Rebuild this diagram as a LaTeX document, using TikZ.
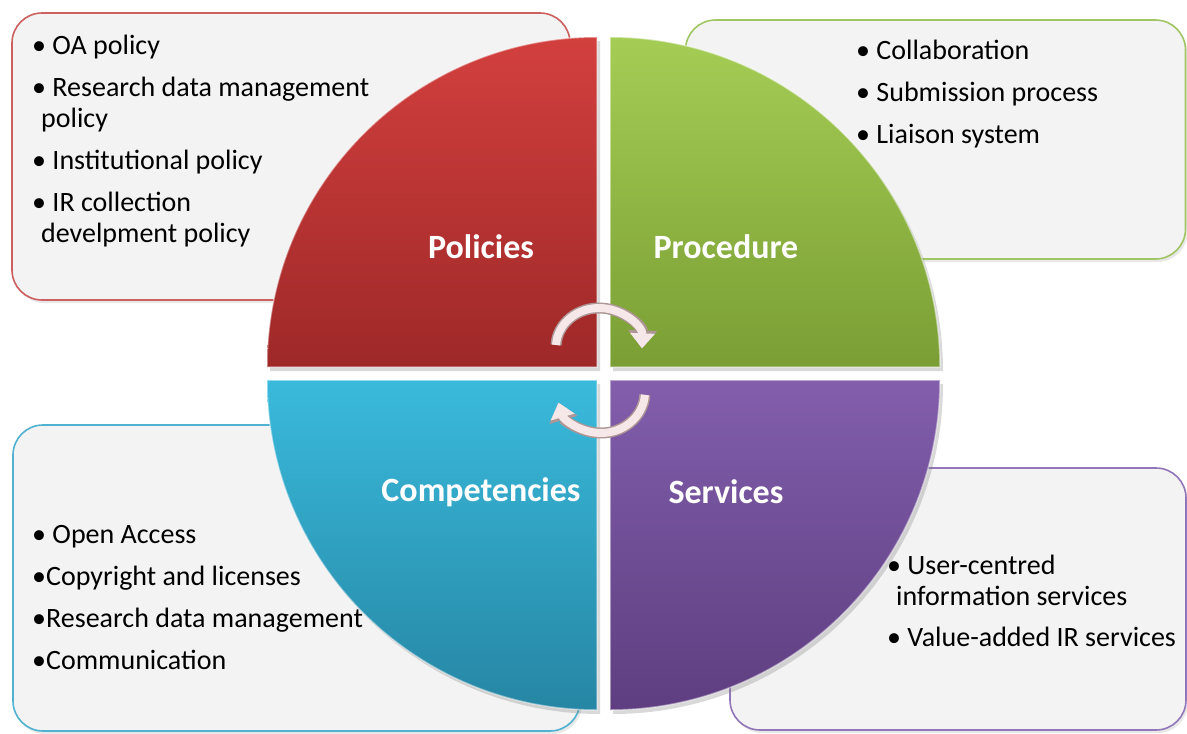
\documentclass[tikz,border=0pt]{standalone}
\usepackage{fontspec}
\setmainfont{Carlito}
\usetikzlibrary{arrows.meta,shadows}

\definecolor{boxgray}{RGB}{243,243,243}
\definecolor{redtop}{RGB}{210,64,62}
\definecolor{redbot}{RGB}{158,40,40}
\definecolor{redline}{RGB}{205,95,95}
\definecolor{greentop}{RGB}{165,205,85}
\definecolor{greenbot}{RGB}{122,158,52}
\definecolor{greenline}{RGB}{160,198,100}
\definecolor{bluetop}{RGB}{58,186,220}
\definecolor{bluebot}{RGB}{38,134,164}
\definecolor{blueline}{RGB}{80,178,208}
\definecolor{purpletop}{RGB}{130,94,172}
\definecolor{purplebot}{RGB}{94,62,128}
\definecolor{purpleline}{RGB}{145,118,185}
\definecolor{arrowpink}{RGB}{246,232,232}
\definecolor{arrowedge}{RGB}{175,150,150}

\begin{document}
\begin{tikzpicture}[x=1pt,y=1pt,
	listbox/.style = {draw, line width=1.6pt, fill=boxgray, rounded corners=30pt,
		drop shadow={opacity=0.18,shadow xshift=2pt,shadow yshift=-3pt}},
	quad/.style = {draw=white, draw opacity=0.45, line width=1.5pt,
		drop shadow={opacity=0.3,shadow xshift=3pt,shadow yshift=-4pt}},
	lbl/.style = {text=white, font=\fontsize{34}{40}\selectfont\bfseries},
	items/.style = {anchor=north west, inner sep=0pt, align=left, font=\fontsize{28}{31}\selectfont},
	cycbase/.style = {line width=11pt, draw=arrowedge, -{Triangle[length=18pt,width=28pt]}},
	cyc/.style = {line width=8pt, draw=arrowpink, -{Triangle[length=15pt,width=24pt]}}]
	\useasboundingbox (0,0) rectangle (1187,-734);

	\node[listbox, draw=redline, minimum width=558pt, minimum height=287pt] (polbox) at (291,-156.5) {};
	\node[listbox, draw=greenline, minimum width=500pt, minimum height=239pt] (probox) at (935.5,-139.5) {};
	\node[listbox, draw=blueline, minimum width=567pt, minimum height=306pt] (combox) at (296.5,-578) {};
	\node[listbox, draw=purpleline, minimum width=456pt, minimum height=262pt] (serbox) at (958,-599) {};

	\path[quad, top color=redtop, bottom color=redbot]
		(597,-367) -- ++(-330,0) arc[start angle=180, end angle=90, radius=330] -- cycle;
	\path[quad, top color=greentop, bottom color=greenbot]
		(610,-367) -- ++(0,330) arc[start angle=90, end angle=0, radius=330] -- cycle;
	\path[quad, top color=bluetop, bottom color=bluebot]
		(597,-380) -- ++(0,-330) arc[start angle=270, end angle=180, radius=330] -- cycle;
	\path[quad, top color=purpletop, bottom color=purplebot]
		(610,-380) -- ++(330,0) arc[start angle=0, end angle=-90, radius=330] -- cycle;

	\node[lbl] (pol) at (481,-247) {Policies};
	\node[lbl] (pro) at (726,-247) {Procedure};
	\node[lbl] (com) at (481,-492) {Competencies};
	\node[lbl] (ser) at (726,-492) {Services};

	\node[items] (politems) at (32,-35) {• OA policy\\[11pt]
		• Research data management\\
		\hspace*{9pt}policy\\[11pt]
		• Institutional policy\\[11pt]
		• IR collection\\
		\hspace*{9pt}develpment policy};
	\node[items] (proitems) at (856,-40) {• Collaboration\\[11pt]
		• Submission process\\[11pt]
		• Liaison system};
	\node[items] (comitems) at (32,-525) {• Open Access\\[11pt]
		•Copyright and licenses\\[11pt]
		•Research data management\\[11pt]
		•Communication};
	\node[items] (seritems) at (887,-555) {• User-centred\\
		\hspace*{9pt}information services\\[10pt]
		• Value-added IR services};

	\coordinate (cyc1) at (599,-347);
	\coordinate (cyc2) at (601,-392);
	\draw[cycbase] (cyc1) ++(177:43 and 39) arc[start angle=177, end angle=-2, x radius=43, y radius=39];
	\draw[cyc] (cyc1) ++(177:43 and 39) arc[start angle=177, end angle=-2, x radius=43, y radius=39];
	\draw[cycbase] (cyc2) ++(-4:44 and 41) arc[start angle=-4, end angle=-165, x radius=44, y radius=41];
	\draw[cyc] (cyc2) ++(-4:44 and 41) arc[start angle=-4, end angle=-165, x radius=44, y radius=41];
\end{tikzpicture}
\end{document}
